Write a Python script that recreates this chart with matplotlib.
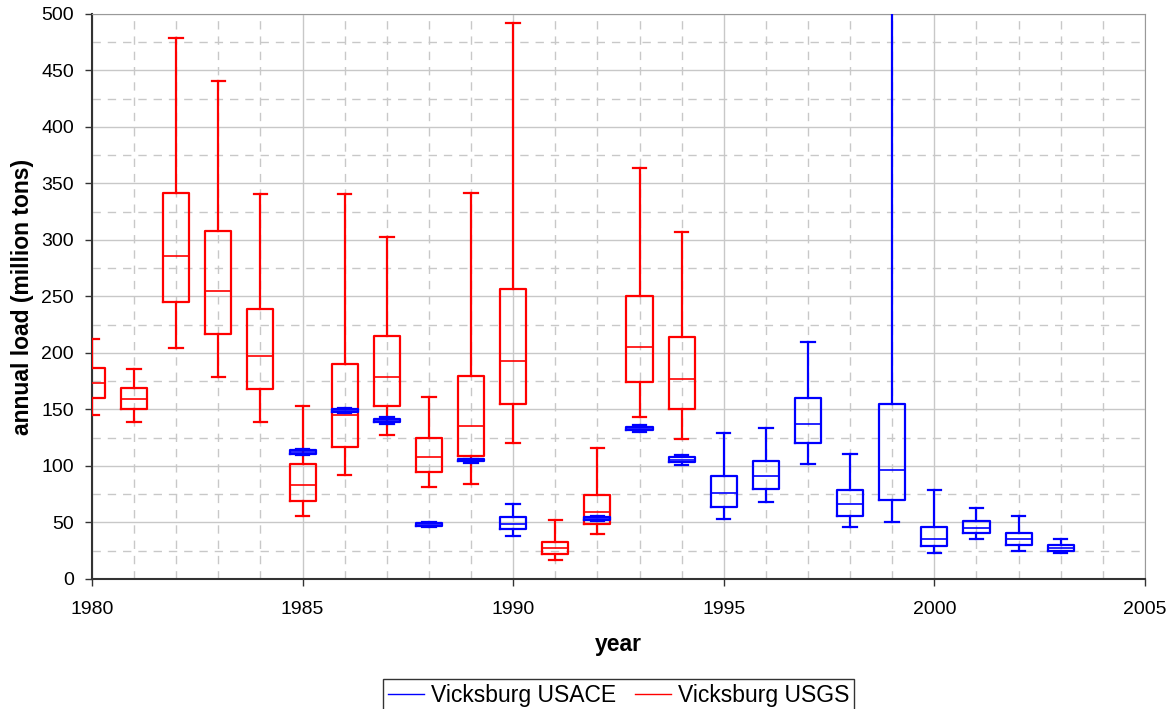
import matplotlib.pyplot as plt
from matplotlib.lines import Line2D
from matplotlib.ticker import MultipleLocator

plt.rcParams['font.family'] = ['Liberation Sans', 'DejaVu Sans']

# USGS boxes (red): year, lower whisker, q1, median, q3, upper whisker
usgs_years = [1980, 1981, 1982, 1983, 1984, 1985, 1986, 1987, 1988, 1989,
              1990, 1991, 1992, 1993, 1994]
usgs_low = [145, 139, 204, 179, 139, 56, 92, 127, 81, 84, 120, 17, 40, 143, 124]
usgs_q1 = [160, 150, 245, 217, 168, 69, 117, 153, 95, 109, 155, 22, 49, 174, 150]
usgs_med = [173, 159, 286, 255, 197, 83, 145, 179, 108, 135, 193, 27, 59, 205, 177]
usgs_q3 = [187, 169, 342, 308, 239, 102, 190, 215, 125, 180, 257, 33, 74, 250, 214]
usgs_high = [212, 186, 479, 441, 341, 153, 341, 303, 161, 342, 492, 52, 116, 364, 307]

# USACE boxes (blue)
usace_years = [1985, 1986, 1987, 1988, 1989, 1990, 1992, 1993, 1994, 1995,
               1996, 1997, 1998, 1999, 2000, 2001, 2002, 2003]
usace_low = [110, 147, 137, 46, 103, 38, 51.5, 130.5, 101, 53, 68, 102, 46, 50, 23, 35, 25, 23]
usace_q1 = [111, 148, 138.5, 47, 104, 44, 52.5, 132, 103.5, 64, 80, 120, 56, 70, 29, 40.5, 30, 25]
usace_med = [112.5, 149, 140, 48, 105, 49, 53.5, 133, 105.5, 76, 91, 137, 66, 96, 35.5, 45, 35, 27.5]
usace_q3 = [114, 150, 141.5, 49.5, 106, 55, 54.5, 134.5, 107.5, 91, 104, 160, 79, 155, 46, 51, 41, 30]
usace_high = [115, 151, 143, 50, 106.5, 66, 55.5, 136, 110, 129, 134, 210, 111, 650, 79, 63, 56, 35]


def make_stats(lo, q1, med, q3, hi):
    return [dict(whislo=a, q1=b, med=c, q3=d, whishi=e, fliers=[])
            for a, b, c, d, e in zip(lo, q1, med, q3, hi)]


fig = plt.figure(figsize=(11.76, 7.09), dpi=100)
ax = fig.add_axes([0.0782, 0.1834, 0.8954, 0.7969])

for stats, pos, color, z in [
        (make_stats(usgs_low, usgs_q1, usgs_med, usgs_q3, usgs_high), usgs_years, 'red', 3),
        (make_stats(usace_low, usace_q1, usace_med, usace_q3, usace_high), usace_years, 'blue', 4)]:
    style = dict(color=color, linewidth=1.6)
    ax.bxp(stats, positions=pos, widths=0.62, capwidths=0.32, showfliers=False,
           manage_ticks=False, boxprops=style, medianprops=dict(color=color, linewidth=1.2),
           whiskerprops=style, capprops=style, zorder=z)

ax.set_xlim(1980, 2005)
ax.set_ylim(0, 500)
ax.xaxis.set_major_locator(MultipleLocator(5))
ax.xaxis.set_minor_locator(MultipleLocator(1))
ax.yaxis.set_major_locator(MultipleLocator(50))
ax.yaxis.set_minor_locator(MultipleLocator(25))
ax.grid(which='major', color='#c8c8c8', linewidth=1.0, linestyle='-')
ax.grid(which='minor', color='#c8c8c8', linewidth=1.0, linestyle=(0, (6, 5)))
ax.set_axisbelow(True)
ax.tick_params(which='minor', length=0)
ax.tick_params(which='major', length=5, width=1, labelsize=14, color='#333333')
ax.tick_params(axis='x', pad=11)
ax.tick_params(axis='y', pad=8)

for s in ['top', 'right']:
    ax.spines[s].set_color('#999999')
for s in ['left', 'bottom']:
    ax.spines[s].set_color('#333333')
    ax.spines[s].set_linewidth(1.5)

ax.set_xlabel('year', fontsize=16.5, fontweight='bold', labelpad=11)
ax.set_ylabel('annual load (million tons)', fontsize=16.5, fontweight='bold', labelpad=5)

handles = [Line2D([], [], color='blue', linewidth=1),
           Line2D([], [], color='red', linewidth=1)]
leg = fig.legend(handles, ['Vicksburg USACE', 'Vicksburg USGS'], loc='center',
                 bbox_to_anchor=(0.526, 0.019), ncol=2, fontsize=16.5, frameon=True,
                 fancybox=False, edgecolor='black', handlelength=1.6, handletextpad=0.3,
                 columnspacing=0.8, borderpad=0.2)
leg.get_frame().set_linewidth(1.0)

fig.savefig('out.png', dpi=100)
